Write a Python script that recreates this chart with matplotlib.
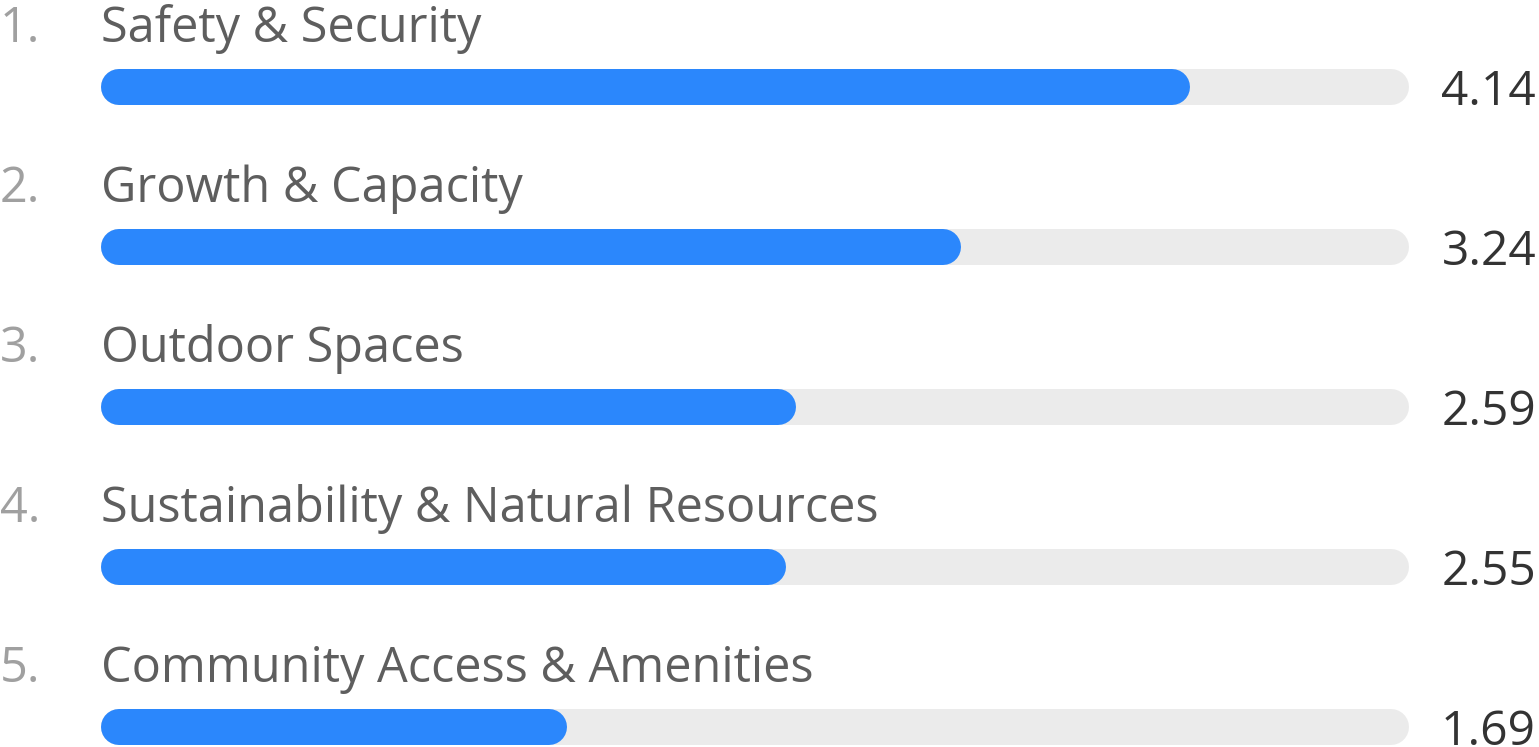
import matplotlib
matplotlib.use("Agg")
import matplotlib.pyplot as plt

categories = ["Safety & Security", "Growth & Capacity", "Outdoor Spaces",
              "Sustainability & Natural Resources", "Community Access & Amenities"]
scores = [4.14, 3.24, 2.59, 2.55, 1.69]
max_score = 5

plt.rcParams['font.family'] = ['Open Sans', 'DejaVu Sans']

W, H = 1539, 747
fig = plt.figure(figsize=(W / 100, H / 100), dpi=100)
# axis spans the bar line (caps stick out by half the line width)
x0, x1 = 119, 1391
ax = fig.add_axes([x0 / W, 0, (x1 - x0) / W, 1])
ax.set_xlim(0, max_score)
ax.set_ylim((H - 87) / 160, -87 / 160)
ax.axis("off")

px = max_score / (x1 - x0)  # data units per pixel in x
lw = 36 * 72 / 100  # 36 px thick bars

for i, (cat, val) in enumerate(zip(categories, scores)):
    ax.plot([0, max_score], [i, i], color="#ebebeb", lw=lw,
            solid_capstyle="round", clip_on=False)
    ax.plot([0, val], [i, i], color="#2b87fc", lw=lw,
            solid_capstyle="round", clip_on=False)
    ax.text(-119 * px, i - 0.28, f"{i + 1}.", color="#a0a0a0", fontsize=35,
            ha="left", va="baseline")
    ax.text(-18 * px, i - 0.28, cat, color="#5e5e5e", fontsize=35,
            ha="left", va="baseline")
    ax.text((1536 - x0) * px, i + 0.1125, f"{val:.2f}", color="#333333",
            fontsize=34.5, ha="right", va="baseline")

fig.savefig("out.png", dpi=100, facecolor="white")
